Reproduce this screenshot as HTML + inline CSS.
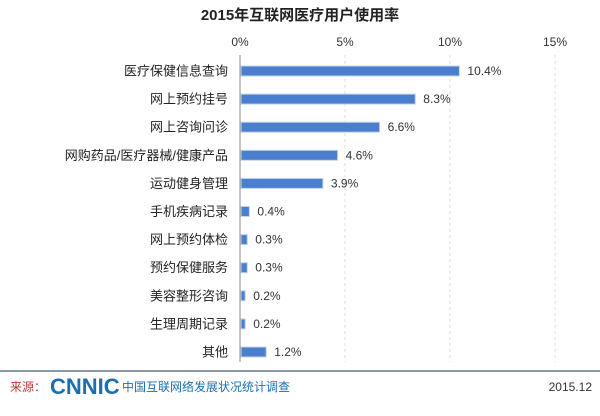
<!DOCTYPE html>
<html><head><meta charset="utf-8"><style>
body{margin:0;background:#fff;width:600px;height:411px;overflow:hidden;font-family:"Liberation Sans","Noto Sans CJK SC",sans-serif}
</style></head><body>
<svg id="c" width="600" height="411" xmlns="http://www.w3.org/2000/svg">
<text x="300" y="20" text-anchor="middle" font-size="15" font-weight="bold" fill="#222" font-family="Liberation Sans,Noto Sans CJK SC,sans-serif">2015年互联网医疗用户使用率</text>
<g id="grid"></g><g id="bars"></g>
<line x1="0" y1="371" x2="600" y2="371" stroke="#8a9aaa" stroke-width="2"/>
<text x="10" y="391" font-size="12" fill="#c0392b" font-family="Noto Sans CJK SC,sans-serif">来源：</text>
<text x="50" y="394" font-size="22" font-weight="bold" fill="#1a6fb0" font-family="Liberation Sans,sans-serif">CNNIC</text>
<text x="122" y="391" font-size="12" fill="#1a6fb0" font-family="Noto Sans CJK SC,sans-serif">中国互联网络发展状况统计调查</text>
<text x="592" y="391" text-anchor="end" font-size="12" fill="#333">2015.12</text>
</svg>
<script>
const categories=["医疗保健信息查询","网上预约挂号","网上咨询问诊","网购药品/医疗器械/健康产品","运动健身管理","手机疾病记录","网上预约体检","预约保健服务","美容整形咨询","生理周期记录","其他"];
const values=[10.4,8.3,6.6,4.6,3.9,0.4,0.3,0.3,0.2,0.2,1.2];
const ticks=[0,5,10,15];
const NS="http://www.w3.org/2000/svg";
const x0=240,pxPer=21,y0=71,rowH=28.1;
const xs=v=>x0+v*pxPer, ys=i=>y0+i*rowH;
const grid=document.getElementById('grid'),bars=document.getElementById('bars');
function mk(t,a,p){const e=document.createElementNS(NS,t);for(const k in a)e.setAttribute(k,a[k]);p.appendChild(e);return e;}
ticks.forEach(t=>{
 const l=mk('line',{x1:xs(t),x2:xs(t),y1:55,y2:362,stroke:t?'#ddd':'#888','stroke-dasharray':t?'3,3':''},grid);
 
 
 const tx=mk('text',{x:xs(t),y:46,'text-anchor':'middle','font-size':12,fill:'#333'},grid);
 tx.textContent=t+'%';
 
 
});
categories.forEach((c,i)=>{
 const y=ys(i);
 const lb=mk('text',{x:228,y:y+4.5,'text-anchor':'end','font-size':13,fill:'#222'},bars);
 lb.textContent=c;
 
 
 const r=mk('rect',{x:x0+1,y:y-5,width:values[i]*pxPer,height:10,fill:'#4a7fcf',stroke:'#c8d6e6','stroke-width':1},bars);
 
 
 const v=mk('text',{x:xs(values[i])+9,y:y+4,'font-size':12,fill:'#333'},bars);
 v.textContent=values[i].toFixed(1)+'%';
 
 
});
</script>
</body></html>
